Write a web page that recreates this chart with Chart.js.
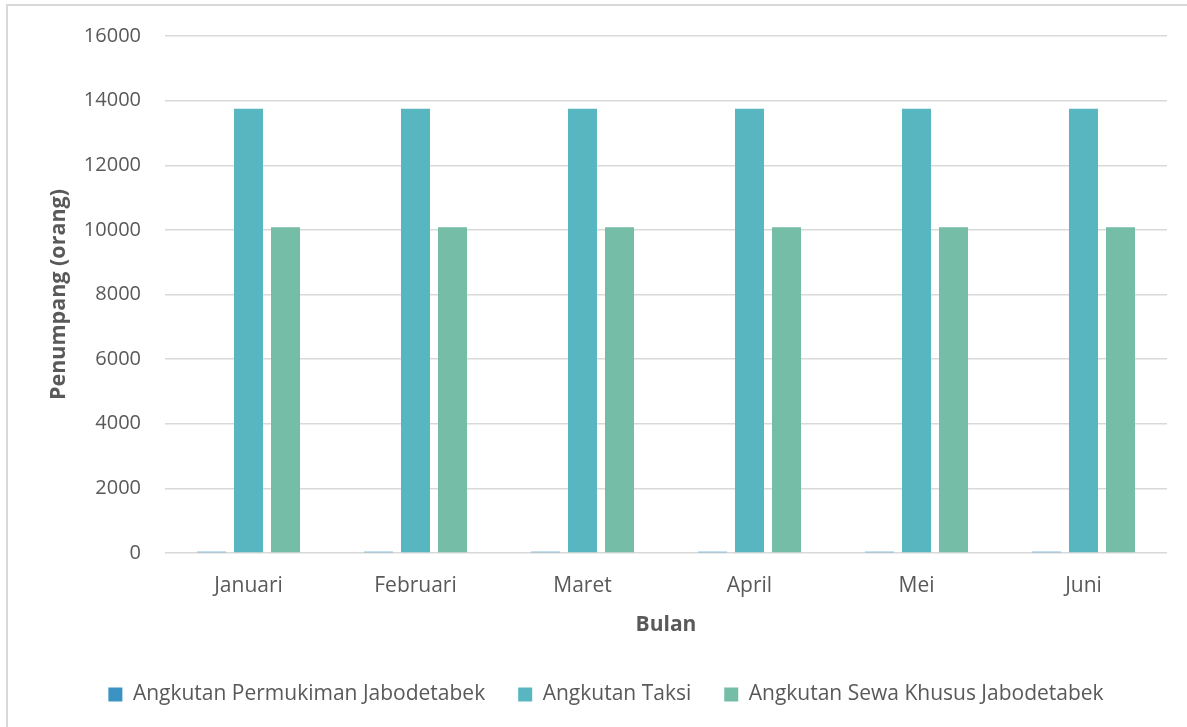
<!DOCTYPE html>
<html>
<head>
<meta charset="utf-8">
<script src="https://cdn.jsdelivr.net/npm/chart.js@4.4.1/dist/chart.umd.min.js"></script>
<style>
  html, body { margin: 0; padding: 0; background: #fff; }
  #wrap { width: 1187px; height: 727px; position: relative; }
</style>
</head>
<body>
<div id="wrap"><canvas id="grafik" width="1187" height="727"></canvas></div>
<script>
const bulan = ["Januari", "Februari", "Maret", "April", "Mei", "Juni"];
const permukiman = [40, 40, 40, 40, 40, 40];
const taksi = [13750, 13750, 13750, 13750, 13750, 13750];
const sewaKhusus = [10080, 10080, 10080, 10080, 10080, 10080];

const teks = "#595959";
const garis = "#d9d9d9";
const huruf = "'Open Sans', sans-serif";

// garis tepi kiri dan atas seperti bingkai chart aslinya
const bingkai = {
    id: "bingkai",
    beforeDraw(chart) {
        const ctx = chart.ctx;
        ctx.save();
        ctx.strokeStyle = garis;
        ctx.lineWidth = 2;
        ctx.beginPath();
        ctx.moveTo(7, 727);
        ctx.lineTo(7, 5);
        ctx.lineTo(1187, 5);
        ctx.stroke();
        ctx.restore();
    }
};

const ctx = document.getElementById("grafik").getContext("2d");
const grafik = new Chart(ctx, {
    type: "bar",
    data: {
        labels: bulan,
        datasets: [
            { label: "Angkutan Permukiman Jabodetabek", data: permukiman, backgroundColor: "#3A93C3" },
            { label: "Angkutan Taksi", data: taksi, backgroundColor: "#58B6C0" },
            { label: "Angkutan Sewa Khusus Jabodetabek", data: sewaKhusus, backgroundColor: "#75BDA7" }
        ]
    },
    options: {
        responsive: false,
        animation: false,
        layout: { padding: { top: 35, right: 20, left: 45, bottom: 12 } },
        datasets: {
            bar: { categoryPercentage: 0.665, barPercentage: 0.784 }
        },
        scales: {
            x: {
                grid: { display: false },
                border: { display: false },
                ticks: { color: teks, font: { family: huruf, size: 21 }, padding: 12 },
                title: {
                    display: true,
                    text: "Bulan",
                    color: teks,
                    font: { family: huruf, size: 21, weight: "bold" },
                    padding: { top: 0, bottom: 13 }
                },
                afterFit(scale) { scale.height = 98; }
            },
            y: {
                min: 0,
                max: 16000,
                border: { display: false },
                grid: { color: garis, lineWidth: 1.5, drawTicks: false },
                ticks: {
                    stepSize: 2000,
                    color: teks,
                    font: { family: huruf, size: 20 },
                    padding: 24,
                    callback: (v) => String(v)
                },
                title: {
                    display: true,
                    text: "Penumpang (orang)",
                    color: teks,
                    font: { family: huruf, size: 21.5, weight: "bold" },
                    padding: { top: 1, bottom: 0 }
                },
                afterFit(scale) { scale.width = 120; }
            }
        },
        plugins: {
            tooltip: { enabled: false },
            legend: {
                position: "bottom",
                labels: {
                    boxWidth: 14,
                    boxHeight: 14,
                    padding: 33,
                    color: teks,
                    font: { family: huruf, size: 21 }
                }
            }
        }
    },
    plugins: [bingkai]
});
</script>
</body>
</html>
